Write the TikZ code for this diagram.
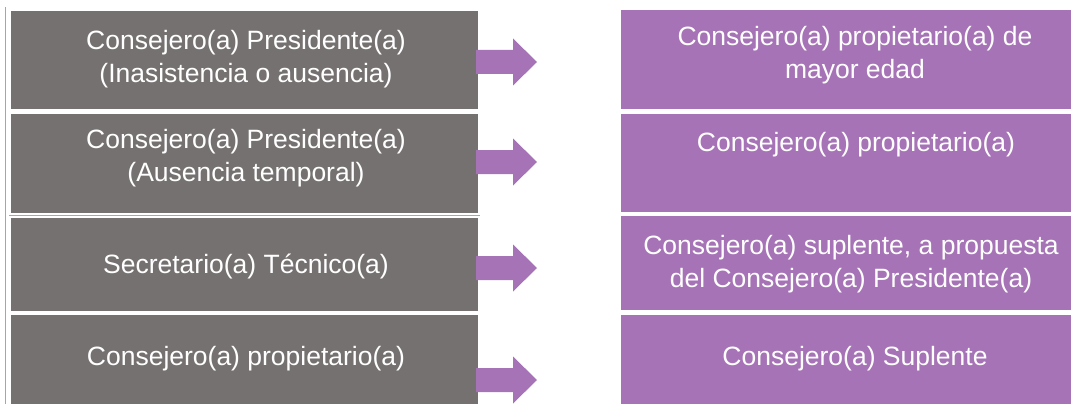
\documentclass[tikz,border=0pt]{standalone}
\usepackage{fontspec}
\setmainfont{Liberation Sans}
\definecolor{boxgray}{HTML}{767171}
\definecolor{boxpurple}{HTML}{A673B6}
\definecolor{rulegray}{HTML}{A6A6A6}
\begin{document}
\begin{tikzpicture}[x=1pt,y=-1pt,
  graybox/.style={fill=boxgray, draw=none, inner sep=0pt, anchor=north west},
  purplebox/.style={fill=boxpurple, draw=none, inner sep=0pt, anchor=north west},
  boxtext/.style={text=white, align=center, inner sep=0pt,
    font=\fontsize{26.5}{33}\selectfont},
  blockarrow/.style={fill=boxpurple, draw=none},
  tablerule/.style={draw=rulegray, line width=1.3pt}]
\useasboundingbox (0,0) rectangle (1071,404);
% table rules
\coordinate (v1) at (5.5,7);
\coordinate (v2) at (5.5,404);
\coordinate (h1) at (9,215.2);
\coordinate (h2) at (480,215.2);
\draw[tablerule] (v1) -- (v2);
\draw[tablerule] (h1) -- (h2);
% left boxes
\node[graybox, minimum width=467pt, minimum height=98pt]   (l1) at (11,11)  {};
\node[graybox, minimum width=467pt, minimum height=98.5pt] (l2) at (11,114) {};
\node[graybox, minimum width=467pt, minimum height=92.5pt] (l3) at (11,218) {};
\node[graybox, minimum width=467pt, minimum height=89pt]   (l4) at (11,315) {};
% right boxes
\node[purplebox, minimum width=450pt, minimum height=98.3pt] (r1) at (621,10)    {};
\node[purplebox, minimum width=450pt, minimum height=98.4pt] (r2) at (621,113.3) {};
\node[purplebox, minimum width=450pt, minimum height=94pt]   (r3) at (621,216)   {};
\node[purplebox, minimum width=450pt, minimum height=89.7pt] (r4) at (621,314.3) {};
% texts
\node[boxtext] (tl1) at (246,59)  {Consejero(a) Presidente(a)\\(Inasistencia o ausencia)};
\node[boxtext] (tl2) at (246,158) {Consejero(a) Presidente(a)\\(Ausencia temporal)};
\node[boxtext] (tl3) at (246,266) {Secretario(a) Técnico(a)};
\node[boxtext] (tl4) at (246,359) {Consejero(a) propietario(a)};
\node[boxtext] (tr1) at (855,55)  {Consejero(a) propietario(a) de\\mayor edad};
\node[boxtext] (tr2) at (856,145) {Consejero(a) propietario(a)};
\node[boxtext] (tr3) at (851,264) {Consejero(a) suplente, a propuesta\\del Consejero(a) Presidente(a)};
\node[boxtext] (tr4) at (855,359) {Consejero(a) Suplente};
% block arrows
\foreach \yc in {62,162,268,380}{
  \fill[blockarrow] (476,\yc-12) -- (513,\yc-12) -- (513,\yc-23.5) -- (537,\yc)
    -- (513,\yc+23.5) -- (513,\yc+12) -- (476,\yc+12) -- cycle;
}
\end{tikzpicture}
\end{document}
